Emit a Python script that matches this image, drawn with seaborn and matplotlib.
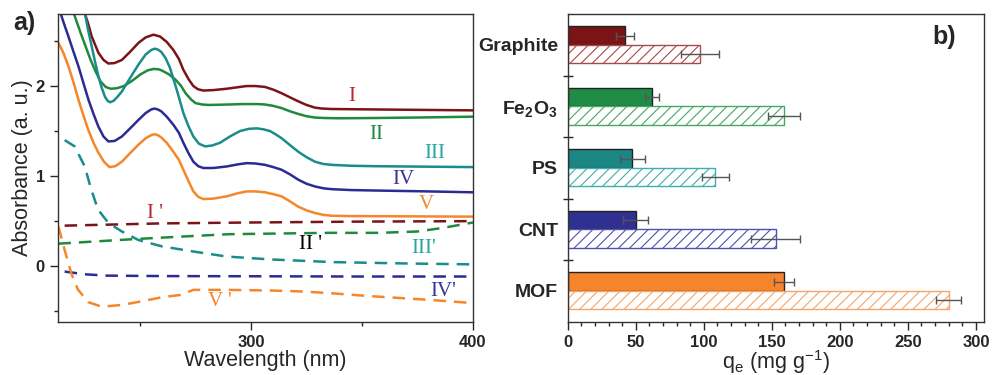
import matplotlib
matplotlib.use('Agg')
import matplotlib.pyplot as plt
from matplotlib.ticker import MultipleLocator, FixedLocator
import seaborn as sns
import pandas as pd

# ---- panel a: UV-vis spectra ----
wl_I = [224.5, 226.5, 228.2, 231.2, 233.5, 235.7, 238.5, 241.8, 245.5, 249.3, 252.5, 256, 259, 262, 265, 267.5,
        269.5, 272, 274, 276, 278.5, 283, 289, 298, 302, 306.3, 310, 313.8, 317.5, 321.3, 325, 328.8, 332,
        336.3, 355.9, 400]
abs_I = [2.85, 2.70, 2.55, 2.37, 2.29, 2.25, 2.255, 2.29, 2.38, 2.48, 2.54, 2.57, 2.55, 2.49, 2.40, 2.30,
         2.18, 2.07, 2.00, 1.965, 1.95, 1.955, 1.97, 2.00, 2.00, 1.99, 1.96, 1.92, 1.875, 1.83, 1.79, 1.76, 1.75,
         1.745, 1.74, 1.73]

wl_II = [219.5, 223.2, 227.7, 230, 232.2, 234.5, 236.7, 239.5, 242.7, 246.5, 250.2, 253.5, 256.2, 258.5, 260,
         263, 266, 268.5, 270.5, 273, 275, 278, 281, 290, 296.5, 303, 306.3, 310, 313.8, 317.5, 321.3, 325,
         328.8, 333, 340, 356, 380, 400]
abs_II = [2.85, 2.59, 2.29, 2.16, 2.05, 1.99, 1.97, 1.975, 2.00, 2.06, 2.13, 2.175, 2.19, 2.185, 2.17,
          2.13, 2.07, 2.00, 1.92, 1.85, 1.81, 1.795, 1.79, 1.795, 1.80, 1.80, 1.795, 1.78, 1.755, 1.72, 1.69, 1.665,
          1.65, 1.645, 1.642, 1.645, 1.652, 1.66]

wl_III = [224.8, 226.5, 228.2, 229.7, 231.2, 232.7, 234.2, 235.4, 236.5, 238, 239.8, 241.8, 245.5, 249.3, 252.5,
          255, 256.5, 258, 259.5, 261.5, 263.5, 265, 266.5, 268, 269.5, 271.7, 274, 276.5, 279.3, 282.5, 286,
          290.5, 295, 299, 302.6, 305.5, 308.6, 311, 313.8, 317.5, 321.3, 325, 328.8, 332.5, 336.3, 345, 356, 400]
abs_III = [2.85, 2.63, 2.44, 2.27, 2.11, 1.98, 1.88, 1.835, 1.82, 1.835, 1.88, 1.94, 2.09, 2.24, 2.35,
           2.40, 2.415, 2.405, 2.38, 2.31, 2.20, 2.08, 1.96, 1.83, 1.70, 1.56, 1.44, 1.36, 1.33, 1.34, 1.37,
           1.44, 1.50, 1.525, 1.53, 1.52, 1.50, 1.465, 1.42, 1.345, 1.27, 1.21, 1.16, 1.135, 1.125, 1.115, 1.11, 1.10]

wl_IV = [213.5, 215.6, 217.7, 220, 222.2, 224.5, 226.7, 229, 231.2, 233.5, 235.7, 238.5, 241.8, 245.5, 249.3,
         252.5, 255, 256.5, 258, 259.5, 262, 265, 267.5, 269.5, 271.7, 274, 276.2, 278.5, 283, 289, 294, 298,
         302, 306.3, 310, 313.8, 317.5, 321.3, 325, 328.8, 332.5, 336.3, 345, 356, 380, 400]
abs_IV = [2.86, 2.70, 2.55, 2.38, 2.22, 2.03, 1.85, 1.69, 1.55, 1.44, 1.385, 1.39, 1.44, 1.53, 1.625,
          1.70, 1.74, 1.75, 1.74, 1.72, 1.66, 1.57, 1.48, 1.37, 1.26, 1.16, 1.11, 1.09, 1.09, 1.107, 1.13, 1.144,
          1.14, 1.125, 1.10, 1.07, 1.02, 0.96, 0.915, 0.885, 0.865, 0.855, 0.845, 0.84, 0.83, 0.82]

wl_V = [213.2, 215.4, 217.7, 220, 222.2, 224.5, 226.7, 229, 231.2, 233.7, 236.2, 238.8, 241.8, 245.5, 249.3,
        252.5, 255, 256.5, 258, 259.5, 262, 265, 267.5, 269.5, 271.7, 274, 276.2, 278.5, 283, 289, 294, 298,
        302, 306.3, 310, 313.8, 317.5, 321.3, 325, 328.8, 332.5, 336.3, 345, 356, 400]
abs_V = [2.48, 2.37, 2.22, 2.04, 1.85, 1.67, 1.51, 1.37, 1.26, 1.16, 1.10, 1.11, 1.16, 1.255, 1.35,
         1.42, 1.455, 1.465, 1.455, 1.43, 1.37, 1.27, 1.18, 1.07, 0.95, 0.83, 0.77, 0.745, 0.75, 0.775, 0.81, 0.83,
         0.83, 0.82, 0.80, 0.775, 0.72, 0.66, 0.62, 0.59, 0.57, 0.56, 0.556, 0.555, 0.55]

# dashed (primed) spectra
wl_I2 = [216, 260, 300, 350, 400]
abs_I2 = [0.45, 0.475, 0.485, 0.495, 0.50]

wl_II2 = [213.2, 247, 270, 290, 335, 358, 375, 386.5, 400]
abs_II2 = [0.25, 0.30, 0.33, 0.355, 0.37, 0.37, 0.385, 0.425, 0.485]

wl_III2 = [216, 220.5, 225, 228, 231, 235.7, 241.8, 249.3, 259.8, 274, 289, 308.6, 337, 370, 400]
abs_III2 = [1.40, 1.33, 1.11, 0.85, 0.63, 0.48, 0.385, 0.29, 0.22, 0.163, 0.107, 0.075, 0.045, 0.03, 0.02]

wl_IV2 = [216, 225, 235, 260, 300, 350, 400]
abs_IV2 = [-0.06, -0.09, -0.105, -0.11, -0.112, -0.115, -0.115]

wl_V2 = [213.2, 216, 219, 222, 226.7, 232.7, 241.8, 250.8, 259.8, 268, 274, 289, 308.6, 322, 336, 352, 381, 400]
abs_V2 = [0.44, 0.18, -0.08, -0.26, -0.40, -0.45, -0.43, -0.39, -0.345, -0.32, -0.263, -0.263, -0.27, -0.28,
          -0.30, -0.33, -0.375, -0.41]

line_colors = ['#7b1419', '#1f8a3c', '#1a8c8c', '#2b2b95', '#f5862a']
label_colors = ['#b8262f', '#1f8a3c', '#25a8a3', '#3535a0', '#f5862a']

# curve labels: text, x, y, colour
curve_labels = ['I', 'II', 'III', 'IV', 'V', "I '", "II '", "III'", "IV'", "V '"]
label_x = [345.3, 356.6, 382.9, 368.6, 379, 256.8, 326.6, 377.6, 386.6, 286]
label_y = [1.885, 1.46, 1.255, 0.96, 0.68, 0.59, 0.237, 0.2, -0.28, -0.39]
label_col = label_colors + [label_colors[0], 'black', label_colors[2], label_colors[3], label_colors[4]]

# ---- panel b: adsorption capacity ----
materials = ['Graphite', r'$\mathbf{Fe_2O_3}$', 'PS', 'CNT', 'MOF']
qe_solid = [42, 62, 47.5, 50, 159]
err_solid = [6.5, 5.4, 9, 9, 7.4]
qe_hatched = [97, 159, 108.5, 153, 280]
err_hatched = [14, 11.7, 10, 18, 9]
bar_colors = ['#7b1416', '#1f8b45', '#1b8684', '#2f3090', '#f6842b']
hatch_colors = ['#a84a4c', '#45a862', '#40aeac', '#5050ae', '#f6a468']

sns.set_style('ticks')
plt.rcParams['font.family'] = ['Liberation Sans', 'DejaVu Sans']
plt.rcParams['mathtext.fontset'] = 'custom'
plt.rcParams['mathtext.rm'] = 'Liberation Sans'
plt.rcParams['mathtext.bf'] = 'Liberation Sans:bold'
plt.rcParams['mathtext.it'] = 'Liberation Sans:italic'
plt.rcParams['hatch.linewidth'] = 0.8
plt.rcParams['axes.linewidth'] = 1.0

fig = plt.figure(figsize=(9.93, 3.75), dpi=100)
ax1 = fig.add_axes([0.0584, 0.1413, 0.4179, 0.8214])
ax2 = fig.add_axes([0.5717, 0.1421, 0.4193, 0.8206])

solid_sets = [(wl_I, abs_I), (wl_II, abs_II), (wl_III, abs_III), (wl_IV, abs_IV), (wl_V, abs_V)]
dash_sets = [(wl_I2, abs_I2), (wl_II2, abs_II2), (wl_III2, abs_III2), (wl_IV2, abs_IV2), (wl_V2, abs_V2)]

for (x, y), c in zip(solid_sets, line_colors):
    sns.lineplot(x=x, y=y, color=c, lw=1.8, ax=ax1)
for (x, y), c in zip(dash_sets, line_colors):
    sns.lineplot(x=x, y=y, color=c, lw=1.8, ax=ax1, linestyle=(0, (5, 3.2)))

for t, x, y, c in zip(curve_labels, label_x, label_y, label_col):
    ax1.text(x, y, t, color=c, fontsize=15, family='Liberation Serif',
             ha='center', va='center')

ax1.set_xlim(213, 400)
ax1.set_ylim(-0.62, 2.8)
ax1.xaxis.set_major_locator(MultipleLocator(100))
ax1.xaxis.set_minor_locator(MultipleLocator(50))
ax1.yaxis.set_major_locator(MultipleLocator(1))
ax1.yaxis.set_minor_locator(MultipleLocator(0.5))
ax1.tick_params(which='major', direction='out', length=6, width=1, labelsize=12)
ax1.tick_params(which='minor', direction='out', length=3, width=1)
for lab in ax1.get_xticklabels() + ax1.get_yticklabels():
    lab.set_fontweight('bold')
ax1.set_xlabel('Wavelength (nm)', fontsize=15.5, labelpad=0)
ax1.set_ylabel('Absorbance (a. u.)', fontsize=15.5, labelpad=2)
for s in ax1.spines.values():
    s.set_visible(True)
    s.set_color('#333333')

fig.text(0.013, 0.938, 'a)', fontsize=18, fontweight='bold', va='center')

# bars
df = pd.DataFrame({
    'material': materials * 2,
    'qe': qe_solid + qe_hatched,
    'kind': ['solid'] * 5 + ['hatched'] * 5,
})
sns.barplot(data=df, y='material', x='qe', hue='kind', order=materials,
            hue_order=['solid', 'hatched'], orient='h', width=0.6,
            dodge=True, errorbar=None, legend=False, ax=ax2)

solid_bars, hatch_bars = ax2.containers[0], ax2.containers[1]
for p, c in zip(solid_bars, bar_colors):
    p.set_facecolor(c)
    p.set_edgecolor('#222222')
    p.set_linewidth(1.0)
for p, c in zip(hatch_bars, hatch_colors):
    p.set_facecolor('white')
    p.set_edgecolor(c)
    p.set_hatch('///')
    p.set_linewidth(1.0)

for bars, errs in [(solid_bars, err_solid), (hatch_bars, err_hatched)]:
    ys = [p.get_y() + p.get_height() / 2 for p in bars]
    xs = [p.get_width() for p in bars]
    ax2.errorbar(xs, ys, xerr=errs, fmt='none', ecolor='#555555',
                 elinewidth=1.0, capsize=3, capthick=1.0, zorder=5)

ax2.set_xlim(0, 306)
ax2.set_ylim(4.5, -0.5)
ax2.xaxis.set_major_locator(MultipleLocator(50))
ax2.xaxis.set_minor_locator(MultipleLocator(10))
ax2.tick_params(axis='x', which='major', direction='out', length=6, width=1, labelsize=12)
ax2.tick_params(axis='x', which='minor', direction='out', length=3, width=1)
ax2.yaxis.set_minor_locator(FixedLocator([0.5, 1.5, 2.5, 3.5]))
ax2.tick_params(axis='y', which='major', length=0, labelsize=14, pad=7)
ax2.tick_params(axis='y', which='minor', direction='inout', length=7, width=1)
for lab in ax2.get_xticklabels() + ax2.get_yticklabels():
    lab.set_fontweight('bold')
ax2.set_xlabel(r'q$_\mathrm{e}$ (mg g$^\mathrm{-1}$)', fontsize=15.5, labelpad=-1)
ax2.set_ylabel('')
for s in ax2.spines.values():
    s.set_visible(True)
    s.set_color('#333333')

ax2.text(0.905, 0.925, 'b)', transform=ax2.transAxes, fontsize=18,
         fontweight='bold', ha='center', va='center')

fig.savefig('out.png', dpi=100)
